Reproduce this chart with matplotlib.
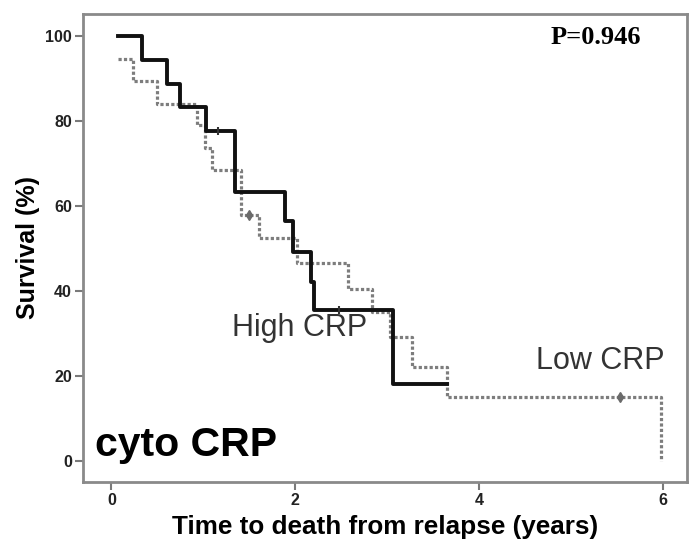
import matplotlib
matplotlib.use("Agg")
import matplotlib.pyplot as plt

# Kaplan-Meier steps (time in years, survival in %)
high_t = [0.07, 0.33, 0.60, 0.75, 1.03, 1.34, 1.89, 1.97, 2.17, 2.20, 3.06, 3.65]
high_s = [100, 94.4, 88.9, 83.3, 77.8, 63.3, 56.4, 49.3, 42.2, 35.6, 18.1, 18.1]
high_cens_t = [1.16, 2.48]
high_cens_s = [77.8, 35.6]

low_t = [0.07, 0.235, 0.50, 0.93, 1.02, 1.09, 1.41, 1.61, 2.02, 2.57, 2.83, 3.03, 3.27, 3.65, 5.98]
low_s = [94.6, 89.5, 84.0, 79.2, 73.7, 68.6, 57.9, 52.4, 46.5, 40.6, 35.1, 29.2, 22.2, 15.0, 0]
low_cens_t = [1.50, 5.53]
low_cens_s = [57.9, 15.0]

xticks = [0, 2, 4, 6]
yticks = [0, 20, 40, 60, 80, 100]

plt.rcParams['font.family'] = ['Liberation Sans', 'DejaVu Sans']

fig = plt.figure(figsize=(6.91, 5.5), dpi=100)
ax = fig.add_axes([0.120, 0.1236, 0.874, 0.851])

ax.step(low_t, low_s, where="post", color="#7d7d7d", lw=2.3, linestyle=(0, (1, 0.7)))
ax.plot(low_cens_t, low_cens_s, linestyle="none", marker="d", ms=5, color="#6a6a6a")
ax.step(high_t, high_s, where="post", color="#111111", lw=2.8)
ax.plot(high_cens_t, high_cens_s, linestyle="none", marker="|", ms=6, mew=1.5, color="#333333")

ax.set_xlim(-0.31, 6.26)
ax.set_ylim(-5, 105.3)
ax.set_xticks(xticks)
ax.set_yticks(yticks)
ax.tick_params(direction="out", length=6, width=1.5, color="#7a7a7a", labelsize=11.5, pad=2)
for lab in ax.get_xticklabels() + ax.get_yticklabels():
    lab.set_fontweight("bold")
    lab.set_color("#222222")
for sp in ax.spines.values():
    sp.set_color("#8a8a8a")
    sp.set_linewidth(2)

ax.set_xlabel("Time to death from relapse (years)", fontsize=18.8, fontweight="bold", labelpad=5)
ax.set_ylabel("Survival (%)", fontsize=18, fontweight="bold", labelpad=4)

ax.text(0.849, 0.95, "P=0.946", transform=ax.transAxes, ha="center", va="center",
        fontsize=19, fontweight="bold", family=["Liberation Serif", "DejaVu Serif"])
ax.text(2.05, 31.2, "High CRP", fontsize=22, color="#333333", ha="center", va="center")
ax.text(5.32, 23.5, "Low CRP", fontsize=22, color="#333333", ha="center", va="center")
ax.text(0.02, 0.08, "cyto CRP", transform=ax.transAxes, fontsize=29.5, fontweight="bold",
        ha="left", va="center")

fig.savefig("out.png", dpi=100)
